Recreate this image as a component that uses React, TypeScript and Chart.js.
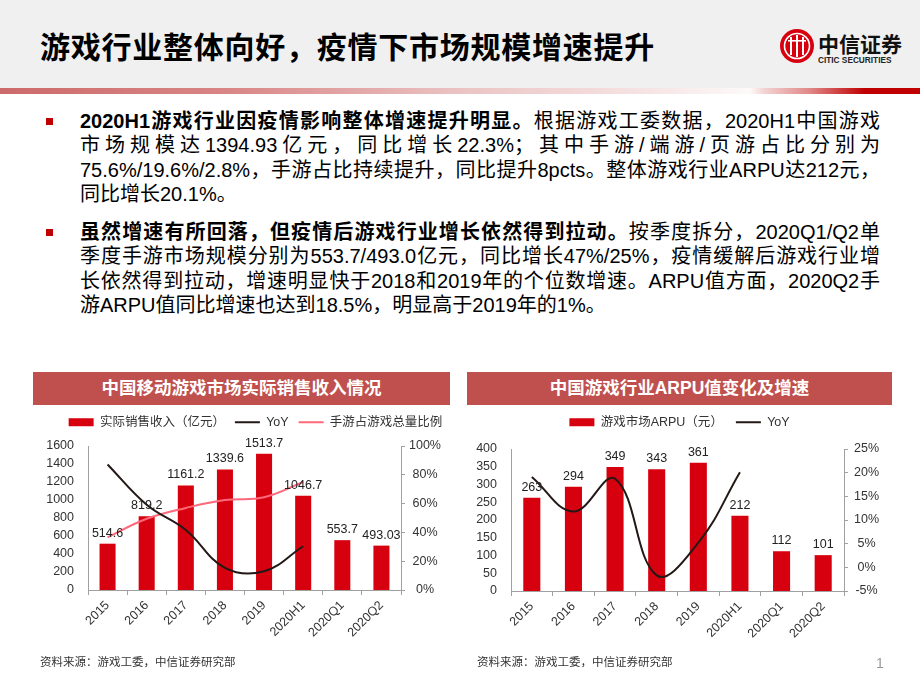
import React, { useEffect, useRef } from 'react';
import { Chart, registerables } from 'chart.js';

Chart.register(...registerables);

// ---------- data ----------
const categories = ['2015', '2016', '2017', '2018', '2019', '2020H1', '2020Q1', '2020Q2'];

const revenue = [514.6, 819.2, 1161.2, 1339.6, 1513.7, 1046.7, 553.7, 493.03];
const revenueLabels = ['514.6', '819.2', '1161.2', '1339.6', '1513.7', '1046.7', '553.7', '493.03'];
const revenueYoY = [87.2, 59.2, 41.7, 15.4, 13.0, 30.4, null, null];
const mobileShare = [36.6, 49.5, 57.0, 62.5, 64.4, 75.0, null, null];
const revenueTicks = [0, 200, 400, 600, 800, 1000, 1200, 1400, 1600];
const shareTicks = [0, 20, 40, 60, 80, 100];

const arpu = [263, 294, 349, 343, 361, 212, 112, 101];
const arpuLabels = ['263', '294', '349', '343', '361', '212', '112', '101'];
const arpuYoY = [19.1, 11.8, 18.7, -1.7, 5.2, 20.1, null, null];
const arpuTicks = [0, 50, 100, 150, 200, 250, 300, 350, 400];
const arpuYoYTicks = [-5, 0, 5, 10, 15, 20, 25];

// ---------- styles ----------
const FONT = '"Liberation Sans", "Noto Sans CJK SC", sans-serif';
const RED = '#d7000f';
const BLACK = '#231815';
const PINK = '#ff687a';
const AXIS = '#a0a0a0';
const TXT = '#333333';
const TICK_FONT = { family: FONT, size: 12.5 };

function fixedLegend(height: number) {
  return {
    id: 'fixedLegend',
    beforeInit(chart: any) {
      const legend = chart.legend;
      if (!legend) return;
      const orig = legend.fit;
      legend.fit = function () {
        orig.call(this);
        this.height = height;
      };
    },
  };
}

function barLabels(labels: string[], offset: number) {
  return {
    id: 'barLabels',
    afterDatasetsDraw(chart: any) {
      const { ctx } = chart;
      const meta = chart.getDatasetMeta(0);
      ctx.save();
      ctx.font = `12.5px ${FONT}`;
      ctx.fillStyle = '#222';
      ctx.textAlign = 'center';
      ctx.textBaseline = 'alphabetic';
      meta.data.forEach((el: any, i: number) => {
        ctx.fillText(labels[i], el.x, el.y - offset);
      });
      ctx.restore();
    },
  };
}

function legendLabels(chart: any) {
  return chart.data.datasets.map((ds: any, i: number) => ({
    text: ds.label,
    fillStyle: ds.type === 'line' ? 'rgba(0,0,0,0)' : ds.backgroundColor,
    strokeStyle: ds.type === 'line' ? ds.borderColor : ds.backgroundColor,
    lineWidth: ds.type === 'line' ? 2 : 0,
    pointStyle: ds.type === 'line' ? 'line' : 'rect',
    hidden: false,
    datasetIndex: i,
    fontColor: TXT,
  }));
}

function makeOptions(p: {
  leftTicks: number[];
  rightTicks: number[];
  legendPadding: number;
  leftWidth: number;
  rightWidth: number;
  xHeight: number;
  rightPad: number;
}) {
  return {
    animation: false,
    responsive: false,
    maintainAspectRatio: false,
    layout: { padding: 0 },
    plugins: {
      tooltip: { enabled: false },
      legend: {
        display: true,
        position: 'top',
        labels: {
          font: { family: FONT, size: 12.5 },
          color: TXT,
          usePointStyle: true,
          pointStyleWidth: 25,
          boxHeight: 8,
          padding: p.legendPadding,
          generateLabels: legendLabels,
        },
      },
    },
    scales: {
      x: {
        offset: true,
        grid: { display: true, drawOnChartArea: false, drawTicks: true, tickLength: 5, color: AXIS, offset: true },
        border: { display: true, color: AXIS },
        ticks: { font: TICK_FONT, color: TXT, minRotation: 45, maxRotation: 45, autoSkip: false, padding: 3 },
        afterFit: (s: any) => {
          s.height = p.xHeight;
        },
      },
      y: {
        position: 'left',
        min: p.leftTicks[0],
        max: p.leftTicks[p.leftTicks.length - 1],
        ticks: {
          stepSize: p.leftTicks[1] - p.leftTicks[0],
          font: TICK_FONT,
          color: TXT,
          padding: 14,
          autoSkip: false,
          callback: (v: any) => String(v),
        },
        grid: { display: false, drawTicks: false },
        border: { display: true, color: AXIS },
        afterFit: (s: any) => {
          s.width = p.leftWidth;
        },
      },
      y1: {
        position: 'right',
        min: p.rightTicks[0],
        max: p.rightTicks[p.rightTicks.length - 1],
        ticks: {
          stepSize: p.rightTicks[1] - p.rightTicks[0],
          font: TICK_FONT,
          color: TXT,
          padding: p.rightPad,
          autoSkip: false,
          crossAlign: 'center',
          callback: (v: any) => `${v}%`,
        },
        grid: { display: true, drawOnChartArea: false, drawTicks: true, tickLength: 4, color: AXIS },
        border: { display: true, color: AXIS },
        afterFit: (s: any) => {
          s.width = p.rightWidth;
        },
      },
    },
  };
}

function RevenueChart() {
  const ref = useRef<HTMLCanvasElement>(null);
  useEffect(() => {
    if (!ref.current) return;
    const chart = new Chart(ref.current, {
      type: 'bar',
      data: {
        labels: categories,
        datasets: [
          {
            type: 'bar',
            label: '实际销售收入（亿元）',
            data: revenue,
            backgroundColor: RED,
            yAxisID: 'y',
            order: 3,
            categoryPercentage: 1,
            barPercentage: 0.41,
          },
          {
            type: 'line',
            label: 'YoY',
            data: revenueYoY,
            borderColor: BLACK,
            backgroundColor: BLACK,
            borderWidth: 2,
            pointRadius: 0,
            tension: 0.4,
            yAxisID: 'y1',
            order: 1,
          },
          {
            type: 'line',
            label: '手游占游戏总量比例',
            data: mobileShare,
            borderColor: PINK,
            backgroundColor: PINK,
            borderWidth: 2,
            pointRadius: 0,
            tension: 0.4,
            yAxisID: 'y1',
            order: 2,
          },
        ],
      } as any,
      options: makeOptions({
        leftTicks: revenueTicks,
        rightTicks: shareTicks,
        legendPadding: 10,
        leftWidth: 55,
        rightWidth: 77,
        xHeight: 70,
        rightPad: 4,
      }) as any,
      plugins: [fixedLegend(40), barLabels(revenueLabels, 7)],
    });
    return () => chart.destroy();
  }, []);
  return (
    <canvas
      ref={ref}
      width={445}
      height={254}
      style={{ position: 'absolute', left: 33, top: 406, width: 445, height: 254 }}
    />
  );
}

function ArpuChart() {
  const ref = useRef<HTMLCanvasElement>(null);
  useEffect(() => {
    if (!ref.current) return;
    const chart = new Chart(ref.current, {
      type: 'bar',
      data: {
        labels: categories,
        datasets: [
          {
            type: 'bar',
            label: '游戏市场ARPU（元）',
            data: arpu,
            backgroundColor: RED,
            yAxisID: 'y',
            order: 3,
            categoryPercentage: 1,
            barPercentage: 0.41,
          },
          {
            type: 'line',
            label: 'YoY',
            data: arpuYoY,
            borderColor: BLACK,
            backgroundColor: BLACK,
            borderWidth: 2,
            pointRadius: 0,
            tension: 0.4,
            yAxisID: 'y1',
            order: 1,
          },
        ],
      } as any,
      options: makeOptions({
        leftTicks: arpuTicks,
        rightTicks: arpuYoYTicks,
        legendPadding: 13,
        leftWidth: 44,
        rightWidth: 48,
        xHeight: 69,
        rightPad: 6,
      }) as any,
      plugins: [fixedLegend(46), barLabels(arpuLabels, 7)],
    });
    return () => chart.destroy();
  }, []);
  return (
    <canvas
      ref={ref}
      width={425}
      height={257}
      style={{ position: 'absolute', left: 467, top: 403, width: 425, height: 257 }}
    />
  );
}

const para1Bold = '2020H1游戏行业因疫情影响整体增速提升明显。';
const para1Lines = [
  '根据游戏工委数据，2020H1中国游戏',
  '市场规模达1394.93亿元，同比增长22.3%；其中手游/端游/页游占比分别为',
  '75.6%/19.6%/2.8%，手游占比持续提升，同比提升8pcts。整体游戏行业ARPU达212元，',
  '同比增长20.1%。',
];
const para2Bold = '虽然增速有所回落，但疫情后游戏行业增长依然得到拉动。';
const para2Lines = [
  '按季度拆分，2020Q1/Q2单',
  '季度手游市场规模分别为553.7/493.0亿元，同比增长47%/25%，疫情缓解后游戏行业增',
  '长依然得到拉动，增速明显快于2018和2019年的个位数增速。ARPU值方面，2020Q2手',
  '游ARPU值同比增速也达到18.5%，明显高于2019年的1%。',
];

function Paragraph({ top, bold, lines }: { top: number; bold: string; lines: string[] }) {
  return (
    <div style={{ position: 'absolute', left: 80, top, width: 800, fontSize: 20, lineHeight: '24.5px', color: '#000' }}>
      {lines.map((l, i) => (
        <div
          key={i}
          style={{
            whiteSpace: 'nowrap',
            textAlign: i < lines.length - 1 ? 'justify' : 'left',
            textAlignLast: i < lines.length - 1 ? 'justify' : 'left',
            height: 24.5,
          }}
        >
          {i === 0 ? <b>{bold}</b> : null}
          {l}
        </div>
      ))}
    </div>
  );
}

function TitleBar({ left, width, text }: { left: number; width: number; text: string }) {
  return (
    <div
      style={{
        position: 'absolute',
        left,
        top: 372,
        width,
        height: 33,
        background: '#c0504d',
        color: '#fff',
        fontWeight: 'bold',
        fontSize: 17.5,
        lineHeight: '33px',
        textAlign: 'center',
      }}
    >
      {text}
    </div>
  );
}

export default function App() {
  return (
    <div
      style={{
        position: 'absolute',
        left: 0,
        top: 0,
        width: 920,
        height: 690,
        background: '#fff',
        overflow: 'hidden',
        fontFamily: FONT,
      }}
    >
      <div style={{ position: 'absolute', left: 0, top: 0, width: 920, height: 88, background: '#f0f0f0' }} />
      <div
        style={{
          position: 'absolute',
          left: 0,
          top: 88,
          width: 920,
          height: 6,
          background:
            'linear-gradient(to right, #cc6a6a 0%, #d98686 25%, #ebc3c3 50%, #f6e3e3 70%, #fdfafa 81.5%, #f3d4d4 83%, #e08888 88%, #c00000 94%, #c00000 100%)',
        }}
      />
      <div
        style={{
          position: 'absolute',
          left: 40,
          top: 30,
          fontSize: 30,
          lineHeight: '36px',
          fontWeight: 'bold',
          color: '#000',
          letterSpacing: 0.75,
          whiteSpace: 'nowrap',
        }}
      >
        游戏行业整体向好，疫情下市场规模增速提升
      </div>
      {/* logo */}
      <svg style={{ position: 'absolute', left: 779, top: 28 }} width={36} height={36} viewBox="0 0 36 36">
        <circle cx={18} cy={18} r={17} fill="#d7000f" />
        <circle cx={18} cy={18} r={12.5} fill="none" stroke="#fff" strokeWidth={1.6} />
        <rect x={11} y={9} width={2} height={18} fill="#fff" />
        <rect x={17} y={7} width={2} height={22} fill="#fff" />
        <rect x={23} y={9} width={2} height={18} fill="#fff" />
        <rect x={9} y={12} width={18} height={1.6} fill="#fff" />
      </svg>
      <div
        style={{
          position: 'absolute',
          left: 818,
          top: 31,
          fontSize: 21,
          lineHeight: '24px',
          fontWeight: 'bold',
          color: '#111',
          fontFamily: '"Noto Sans CJK SC", serif',
          whiteSpace: 'nowrap',
        }}
      >
        中信证券
      </div>
      <div
        style={{
          position: 'absolute',
          left: 818,
          top: 55,
          fontSize: 9.5,
          lineHeight: '10px',
          fontWeight: 'bold',
          color: '#222',
          whiteSpace: 'nowrap',
          transform: 'scaleX(0.87)',
          transformOrigin: 'left top',
        }}
      >
        CITIC SECURITIES
      </div>

      {/* bullets */}
      <div style={{ position: 'absolute', left: 46, top: 118, width: 7, height: 7, background: '#c00000' }} />
      <div style={{ position: 'absolute', left: 46, top: 229, width: 7, height: 7, background: '#c00000' }} />
      <Paragraph top={108.75} bold={para1Bold} lines={para1Lines} />
      <Paragraph top={219.75} bold={para2Bold} lines={para2Lines} />

      <TitleBar left={33} width={417} text="中国移动游戏市场实际销售收入情况" />
      <TitleBar left={467} width={425} text="中国游戏行业ARPU值变化及增速" />

      <RevenueChart />
      <ArpuChart />

      <div style={{ position: 'absolute', left: 40, top: 655, fontSize: 11.5, lineHeight: '14px', color: '#333', whiteSpace: 'nowrap' }}>
        资料来源：游戏工委，中信证券研究部
      </div>
      <div style={{ position: 'absolute', left: 477, top: 655, fontSize: 11.5, lineHeight: '14px', color: '#333', whiteSpace: 'nowrap' }}>
        资料来源：游戏工委，中信证券研究部
      </div>
      <div style={{ position: 'absolute', left: 876, top: 655, fontSize: 14, lineHeight: '16px', color: '#999' }}>1</div>
    </div>
  );
}
